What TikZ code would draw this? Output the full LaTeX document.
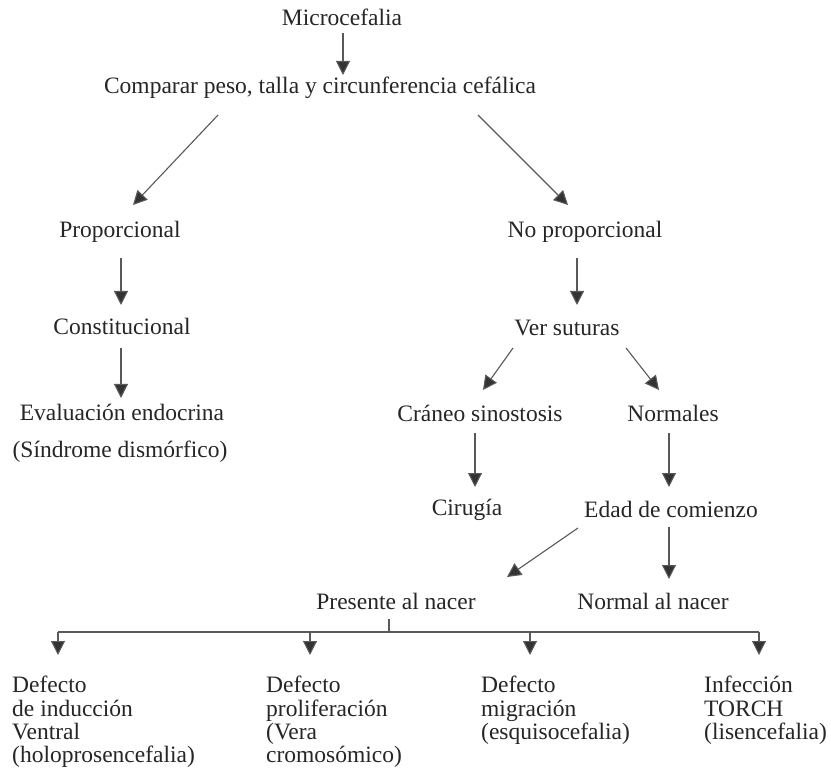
\documentclass[tikz,border=0pt]{standalone}
\usepackage{fontspec}
\setmainfont{Liberation Serif}
\usetikzlibrary{arrows.meta,calc}
\begin{document}
\begin{tikzpicture}[x=1pt,y=-1pt,
  txt/.style={inner sep=0pt, text=black!85, font=\fontsize{23.5}{23.5}\selectfont, text height=16pt, text depth=5pt},
  blk/.style={inner sep=0pt, text=black!85, font=\fontsize{23.5}{23.3}\selectfont, align=left, anchor=north west},
  arr/.style={draw=black!65, line width=1.1pt, -{Triangle[length=14pt,width=14pt,fill=black!80]}},
  ln/.style={draw=black!65, line width=1.1pt}]
\useasboundingbox (0,0) rectangle (831,770);
\fill[white] (0,0) rectangle (831,770);

\node[txt] (mic) at (342,20) {Microcefalia};
\node[txt] (cmp) at (320,88) {Comparar peso, talla y circunferencia cefálica};
\node[txt] (prop) at (120,232) {Proporcional};
\node[txt] (nprop) at (585,232) {No proporcional};
\node[txt] (cons) at (122,329) {Constitucional};
\node[txt] (endo) at (122,415) {Evaluación endocrina};
\node[txt] (sind) at (120,452) {(Síndrome dismórfico)};
\node[txt] (ver) at (567,330) {Ver suturas};
\node[txt] (cran) at (480,416) {Cráneo sinostosis};
\node[txt] (norm) at (673,416) {Normales};
\node[txt] (cir) at (467,510) {Cirugía};
\node[txt] (edad) at (671,512) {Edad de comienzo};
\node[txt] (pres) at (396,604) {Presente al nacer};
\node[txt] (nnac) at (653,604) {Normal al nacer};

\node[blk] (d1) at (12,676) {Defecto\\de inducción\\Ventral\\(holoprosencefalia)};
\node[blk] (d2) at (266,676) {Defecto\\proliferación\\(Vera\\cromosómico)};
\node[blk] (d3) at (481,676) {Defecto\\migración\\(esquisocefalia)};
\node[blk] (d4) at (704,676) {Infección\\TORCH\\(lisencefalia)};

\draw[arr] ($(mic)+(1,13)$) -- ($(cmp)+(23,-13)$);
\draw[arr] ($(cmp)+(-102,27)$) -- ($(prop)+(13,-27)$);
\draw[arr] ($(cmp)+(158,27)$) -- ($(nprop)+(-17,-27)$);
\draw[arr] ($(prop)+(1,26)$) -- ($(cons)+(-1,-24)$);
\draw[arr] ($(cons)+(-1,19)$) -- ($(endo)+(-1,-17)$);
\draw[arr] ($(nprop)+(-8,26)$) -- ($(ver)+(10,-25)$);
\draw[arr] ($(ver)+(-54,18)$) -- ($(cran)+(3,-26)$);
\draw[arr] ($(ver)+(59,18)$) -- ($(norm)+(-14,-26)$);
\draw[arr] ($(cran)+(-5,17)$) -- ($(cir)+(8,-23)$);
\draw[arr] ($(norm)+(-4,17)$) -- ($(edad)+(-2,-25)$);
\draw[arr] ($(edad)+(-93,16)$) -- ($(pres)+(111,-27)$);
\draw[arr] ($(edad)+(-2,15)$) -- ($(nnac)+(16,-25)$);

\coordinate (hb) at (389,632);
\coordinate (b1) at (58,632);
\coordinate (b2) at (310,632);
\coordinate (b3) at (530,632);
\coordinate (b4) at (759,632);
\draw[ln] ($(pres)+(-7,15)$) -- (hb);
\draw[ln] (b1) -- (b4);
\foreach \b in {b1,b2,b3,b4} \draw[arr] (\b) -- ++(0,23);
\end{tikzpicture}
\end{document}
